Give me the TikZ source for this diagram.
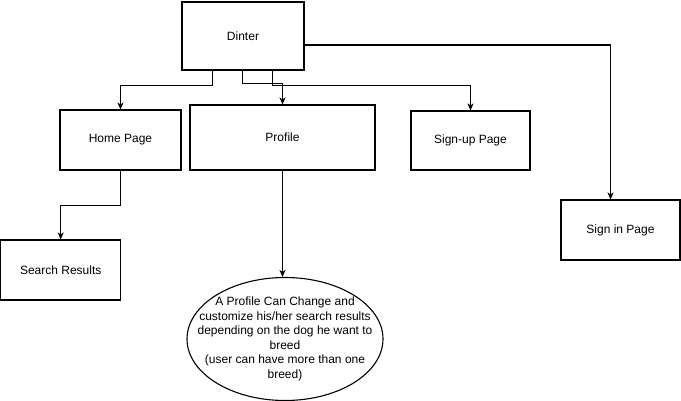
\documentclass[tikz,border=0pt]{standalone}
\usepackage{fontspec}
\setmainfont{Liberation Sans}
\usetikzlibrary{arrows.meta,shapes.geometric}

\begin{document}
\begin{tikzpicture}[
        x=1pt, y=1pt,
        font=\fontsize{12}{14.5}\selectfont,
        page/.style={draw, line width=1.1pt, inner sep=0pt, align=center},
        link/.style={line width=1.1pt, -{Stealth[length=7pt,width=6pt,inset=2pt]}}
    ]
        \useasboundingbox (0,0) rectangle (681,-401);
        \node[page, minimum width=122, minimum height=68] (dinter) at (243,-36) {Dinter};
        \node[page, minimum width=121, minimum height=60] (home) at (120.5,-140) {Home Page};
        \node[page, minimum width=185, minimum height=65] (profile) at (282.5,-137.5) {Profile};
        \node[page, minimum width=119, minimum height=59] (signup) at (470.5,-140.5) {Sign-up Page};
        \node[page, minimum width=119, minimum height=60] (signin) at (620.5,-230) {Sign in Page};
        \node[page, minimum width=120, minimum height=60] (search) at (60.7,-270) {Search Results};
        \node[page, ellipse, inner sep=-40pt, minimum width=196, minimum height=123] (note) at (285,-339)
            {A Profile Can Change and\\customize his/her search results\\depending on the dog he want to\\breed\\(user can have more than one\\breed)};

        \draw[link] ([xshift=31]dinter.south west) -- ++(0,-15) -| (home.north);
        \draw[link] ([xshift=61]dinter.south west) -- ++(0,-13) -| (profile.north);
        \draw[link] ([xshift=91]dinter.south west) -- ++(0,-15) -| (signup.north);
        \draw[link] ([yshift=-9]dinter.east) -| ([xshift=-10]signin.north);
        \draw[link] (home.south) -- ++(0,-35) -| (search.north);
        \draw[link] (profile.south) -- (profile.south |- note.north);
    \end{tikzpicture}
\end{document}
